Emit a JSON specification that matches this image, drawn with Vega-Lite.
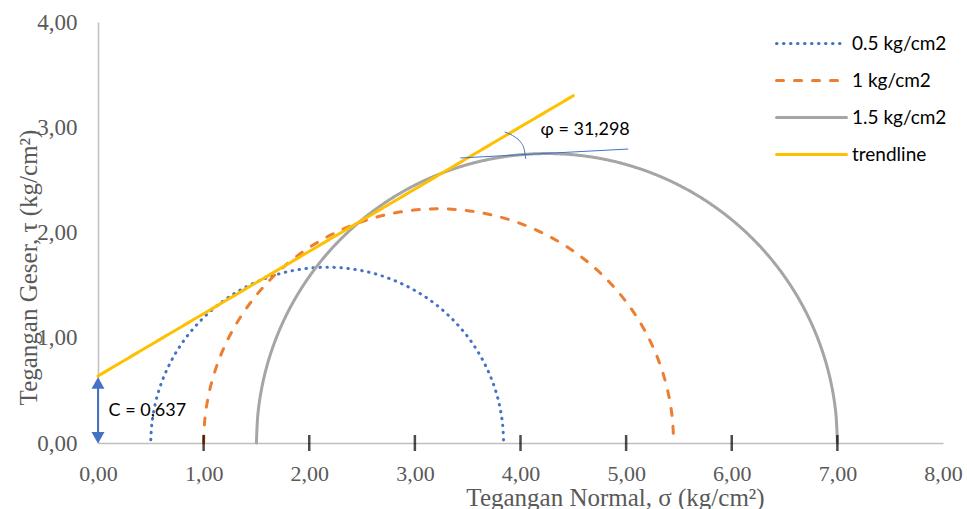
{
  "$schema": "https://vega.github.io/schema/vega-lite/v6.json",
  "width": 845,
  "height": 421,
  "autosize": {"type": "none"},
  "padding": {"left": 98, "top": 22, "right": 24, "bottom": 66},
  "background": "white",
  "config": {
    "view": {"stroke": null},
    "locale": {"number": {"decimal": ",", "thousands": ".", "grouping": [3], "currency": ["", ""]}}
  },
  "datasets": {
    "curves": [
      {"series": "0.5 kg/cm2", "x": 3.84, "y": 0},
      {"series": "0.5 kg/cm2", "x": 3.8308, "y": 0.1746},
      {"series": "0.5 kg/cm2", "x": 3.8035, "y": 0.3472},
      {"series": "0.5 kg/cm2", "x": 3.7583, "y": 0.5161},
      {"series": "0.5 kg/cm2", "x": 3.6956, "y": 0.6793},
      {"series": "0.5 kg/cm2", "x": 3.6163, "y": 0.835},
      {"series": "0.5 kg/cm2", "x": 3.5211, "y": 0.9816},
      {"series": "0.5 kg/cm2", "x": 3.411, "y": 1.1174},
      {"series": "0.5 kg/cm2", "x": 3.2874, "y": 1.241},
      {"series": "0.5 kg/cm2", "x": 3.1516, "y": 1.3511},
      {"series": "0.5 kg/cm2", "x": 3.005, "y": 1.4463},
      {"series": "0.5 kg/cm2", "x": 2.8493, "y": 1.5256},
      {"series": "0.5 kg/cm2", "x": 2.6861, "y": 1.5883},
      {"series": "0.5 kg/cm2", "x": 2.5172, "y": 1.6335},
      {"series": "0.5 kg/cm2", "x": 2.3446, "y": 1.6608},
      {"series": "0.5 kg/cm2", "x": 2.17, "y": 1.67},
      {"series": "0.5 kg/cm2", "x": 1.9954, "y": 1.6608},
      {"series": "0.5 kg/cm2", "x": 1.8228, "y": 1.6335},
      {"series": "0.5 kg/cm2", "x": 1.6539, "y": 1.5883},
      {"series": "0.5 kg/cm2", "x": 1.4907, "y": 1.5256},
      {"series": "0.5 kg/cm2", "x": 1.335, "y": 1.4463},
      {"series": "0.5 kg/cm2", "x": 1.1884, "y": 1.3511},
      {"series": "0.5 kg/cm2", "x": 1.0526, "y": 1.241},
      {"series": "0.5 kg/cm2", "x": 0.929, "y": 1.1174},
      {"series": "0.5 kg/cm2", "x": 0.8189, "y": 0.9816},
      {"series": "0.5 kg/cm2", "x": 0.7237, "y": 0.835},
      {"series": "0.5 kg/cm2", "x": 0.6444, "y": 0.6793},
      {"series": "0.5 kg/cm2", "x": 0.5817, "y": 0.5161},
      {"series": "0.5 kg/cm2", "x": 0.5365, "y": 0.3472},
      {"series": "0.5 kg/cm2", "x": 0.5092, "y": 0.1746},
      {"series": "0.5 kg/cm2", "x": 0.5, "y": 0.03},
      {"series": "1 kg/cm2", "x": 5.45, "y": 0},
      {"series": "1 kg/cm2", "x": 5.4378, "y": 0.2326},
      {"series": "1 kg/cm2", "x": 5.4014, "y": 0.4626},
      {"series": "1 kg/cm2", "x": 5.3411, "y": 0.6876},
      {"series": "1 kg/cm2", "x": 5.2576, "y": 0.905},
      {"series": "1 kg/cm2", "x": 5.1519, "y": 1.1125},
      {"series": "1 kg/cm2", "x": 5.0251, "y": 1.3078},
      {"series": "1 kg/cm2", "x": 4.8785, "y": 1.4888},
      {"series": "1 kg/cm2", "x": 4.7138, "y": 1.6535},
      {"series": "1 kg/cm2", "x": 4.5328, "y": 1.8001},
      {"series": "1 kg/cm2", "x": 4.3375, "y": 1.9269},
      {"series": "1 kg/cm2", "x": 4.13, "y": 2.0326},
      {"series": "1 kg/cm2", "x": 3.9126, "y": 2.1161},
      {"series": "1 kg/cm2", "x": 3.6876, "y": 2.1764},
      {"series": "1 kg/cm2", "x": 3.4576, "y": 2.2128},
      {"series": "1 kg/cm2", "x": 3.225, "y": 2.225},
      {"series": "1 kg/cm2", "x": 2.9924, "y": 2.2128},
      {"series": "1 kg/cm2", "x": 2.7624, "y": 2.1764},
      {"series": "1 kg/cm2", "x": 2.5374, "y": 2.1161},
      {"series": "1 kg/cm2", "x": 2.32, "y": 2.0326},
      {"series": "1 kg/cm2", "x": 2.1125, "y": 1.9269},
      {"series": "1 kg/cm2", "x": 1.9172, "y": 1.8001},
      {"series": "1 kg/cm2", "x": 1.7362, "y": 1.6535},
      {"series": "1 kg/cm2", "x": 1.5715, "y": 1.4888},
      {"series": "1 kg/cm2", "x": 1.4249, "y": 1.3078},
      {"series": "1 kg/cm2", "x": 1.2981, "y": 1.1125},
      {"series": "1 kg/cm2", "x": 1.1924, "y": 0.905},
      {"series": "1 kg/cm2", "x": 1.1089, "y": 0.6876},
      {"series": "1 kg/cm2", "x": 1.0486, "y": 0.4626},
      {"series": "1 kg/cm2", "x": 1.0122, "y": 0.2326},
      {"series": "1 kg/cm2", "x": 1.0, "y": 0},
      {"series": "1.5 kg/cm2", "x": 7.0, "y": 0},
      {"series": "1.5 kg/cm2", "x": 6.9849, "y": 0.2875},
      {"series": "1.5 kg/cm2", "x": 6.9399, "y": 0.5718},
      {"series": "1.5 kg/cm2", "x": 6.8654, "y": 0.8498},
      {"series": "1.5 kg/cm2", "x": 6.7623, "y": 1.1185},
      {"series": "1.5 kg/cm2", "x": 6.6316, "y": 1.375},
      {"series": "1.5 kg/cm2", "x": 6.4748, "y": 1.6164},
      {"series": "1.5 kg/cm2", "x": 6.2936, "y": 1.8401},
      {"series": "1.5 kg/cm2", "x": 6.0901, "y": 2.0436},
      {"series": "1.5 kg/cm2", "x": 5.8664, "y": 2.2248},
      {"series": "1.5 kg/cm2", "x": 5.625, "y": 2.3816},
      {"series": "1.5 kg/cm2", "x": 5.3685, "y": 2.5123},
      {"series": "1.5 kg/cm2", "x": 5.0998, "y": 2.6154},
      {"series": "1.5 kg/cm2", "x": 4.8218, "y": 2.6899},
      {"series": "1.5 kg/cm2", "x": 4.5375, "y": 2.7349},
      {"series": "1.5 kg/cm2", "x": 4.25, "y": 2.75},
      {"series": "1.5 kg/cm2", "x": 3.9625, "y": 2.7349},
      {"series": "1.5 kg/cm2", "x": 3.6782, "y": 2.6899},
      {"series": "1.5 kg/cm2", "x": 3.4002, "y": 2.6154},
      {"series": "1.5 kg/cm2", "x": 3.1315, "y": 2.5123},
      {"series": "1.5 kg/cm2", "x": 2.875, "y": 2.3816},
      {"series": "1.5 kg/cm2", "x": 2.6336, "y": 2.2248},
      {"series": "1.5 kg/cm2", "x": 2.4099, "y": 2.0436},
      {"series": "1.5 kg/cm2", "x": 2.2064, "y": 1.8401},
      {"series": "1.5 kg/cm2", "x": 2.0252, "y": 1.6164},
      {"series": "1.5 kg/cm2", "x": 1.8684, "y": 1.375},
      {"series": "1.5 kg/cm2", "x": 1.7377, "y": 1.1185},
      {"series": "1.5 kg/cm2", "x": 1.6346, "y": 0.8498},
      {"series": "1.5 kg/cm2", "x": 1.5601, "y": 0.5718},
      {"series": "1.5 kg/cm2", "x": 1.5151, "y": 0.2875},
      {"series": "1.5 kg/cm2", "x": 1.5, "y": 0},
      {"series": "trendline", "x": 0, "y": 0.637},
      {"series": "trendline", "x": 4.5, "y": 3.3}
    ],
    "ticks": [{"x": 1, "y": 0}, {"x": 2, "y": 0}, {"x": 3, "y": 0}, {"x": 4, "y": 0}, {"x": 5, "y": 0}, {"x": 6, "y": 0}, {"x": 7, "y": 0}],
    "tangent": [{"x": 3.43, "y": 2.708}, {"x": 4.25, "y": 2.752}, {"x": 5.02, "y": 2.793}],
    "arc": [{"x": 3.85, "y": 2.955}, {"x": 3.95, "y": 2.905}, {"x": 4.0, "y": 2.86}, {"x": 4.035, "y": 2.79}, {"x": 4.05, "y": 2.70}],
    "arrowLine": [{"x": 0, "y": 0.04, "y2": 0.6}],
    "arrowUp": [{"x": 0, "y": 0.57}],
    "arrowDown": [{"x": 0, "y": 0.05}],
    "labels": [
      {"x": 0.1, "y": 0.3, "text": "C = 0,637"},
      {"x": 4.19, "y": 2.975, "text": "φ = 31,298"}
    ]
  },
  "layer": [
    {
      "data": {"name": "curves"},
      "mark": {"type": "line", "strokeWidth": 3, "strokeCap": "round", "interpolate": "cardinal"},
      "encoding": {
        "x": {
          "field": "x", "type": "quantitative",
          "scale": {"domain": [0, 8], "nice": false},
          "axis": {
            "values": [0, 1, 2, 3, 4, 5, 6, 7, 8], "format": ".2f", "grid": false, "ticks": false, "labelFlush": false,
            "domainColor": "#BFBFBF", "domainWidth": 1.5,
            "labelFont": "Liberation Serif", "labelFontSize": 22, "labelColor": "#595959", "labelPadding": 37, "labelBaseline": "alphabetic",
            "title": "Tegangan Normal, σ (kg/cm²)", "titleFont": "Liberation Serif", "titleFontSize": 25,
            "titleFontWeight": "normal", "titleColor": "#595959", "titleX": 517, "titleY": 62, "titleBaseline": "alphabetic"
          }
        },
        "y": {
          "field": "y", "type": "quantitative",
          "scale": {"domain": [0, 4], "nice": false},
          "axis": {
            "values": [0, 1, 2, 3, 4], "format": ".2f", "grid": false, "ticks": false, "labelFlush": false,
            "domainColor": "#BFBFBF", "domainWidth": 1.5,
            "labelFont": "Liberation Serif", "labelFontSize": 23, "labelColor": "#595959", "labelPadding": 21,
            "title": "Tegangan Geser, τ (kg/cm²)", "titleFont": "Liberation Serif", "titleFontSize": 25,
            "titleFontWeight": "normal", "titleColor": "#595959", "titleX": -70, "titleY": 245, "titleBaseline": "middle"
          }
        },
        "color": {
          "field": "series", "type": "nominal",
          "scale": {"domain": ["0.5 kg/cm2", "1 kg/cm2", "1.5 kg/cm2", "trendline"], "range": ["#4472C4", "#ED7D31", "#A5A5A5", "#FFC000"]},
          "legend": {
            "orient": "none", "legendX": 677, "legendY": 3, "title": null,
            "symbolType": "stroke", "symbolSize": 4900, "symbolStrokeWidth": 3, "clipHeight": 37,
            "labelFont": "Lato", "labelFontSize": 19, "labelColor": "#000000", "rowPadding": 0,
            "encode": {"symbols": {"update": {"strokeCap": {"value": "round"}}}}
          }
        },
        "strokeDash": {
          "field": "series", "type": "nominal",
          "scale": {"domain": ["0.5 kg/cm2", "1 kg/cm2", "1.5 kg/cm2", "trendline"], "range": [[0.5, 6.5], [7, 11], [1, 0], [1, 0]]},
          "legend": {
            "orient": "none", "legendX": 677, "legendY": 3, "title": null,
            "symbolType": "stroke", "symbolSize": 4900, "symbolStrokeWidth": 3, "clipHeight": 37,
            "labelFont": "Lato", "labelFontSize": 19, "labelColor": "#000000", "rowPadding": 0,
            "encode": {"symbols": {"update": {"strokeCap": {"value": "round"}}}}
          }
        }
      }
    },
    {
      "data": {"name": "ticks"},
      "mark": {"type": "tick", "orient": "vertical", "color": "#000000", "size": 16, "thickness": 2.5},
      "encoding": {"x": {"field": "x", "type": "quantitative"}, "y": {"field": "y", "type": "quantitative"}}
    },
    {
      "data": {"name": "tangent"},
      "mark": {"type": "line", "color": "#4472C4", "strokeWidth": 1, "interpolate": "monotone"},
      "encoding": {"x": {"field": "x", "type": "quantitative"}, "y": {"field": "y", "type": "quantitative"}}
    },
    {
      "data": {"name": "arc"},
      "mark": {"type": "line", "color": "#4472C4", "strokeWidth": 1, "interpolate": "monotone"},
      "encoding": {"x": {"field": "x", "type": "quantitative"}, "y": {"field": "y", "type": "quantitative"}}
    },
    {
      "data": {"name": "arrowLine"},
      "mark": {"type": "rule", "color": "#4472C4", "strokeWidth": 2},
      "encoding": {"x": {"field": "x", "type": "quantitative"}, "y": {"field": "y", "type": "quantitative"}, "y2": {"field": "y2"}}
    },
    {
      "data": {"name": "arrowUp"},
      "mark": {"type": "point", "shape": "triangle-up", "filled": true, "color": "#4472C4", "size": 170, "opacity": 1},
      "encoding": {"x": {"field": "x", "type": "quantitative"}, "y": {"field": "y", "type": "quantitative"}}
    },
    {
      "data": {"name": "arrowDown"},
      "mark": {"type": "point", "shape": "triangle-down", "filled": true, "color": "#4472C4", "size": 170, "opacity": 1},
      "encoding": {"x": {"field": "x", "type": "quantitative"}, "y": {"field": "y", "type": "quantitative"}}
    },
    {
      "data": {"name": "labels"},
      "mark": {"type": "text", "align": "left", "baseline": "middle", "font": "Lato", "fontSize": 18, "color": "#000000"},
      "encoding": {"x": {"field": "x", "type": "quantitative"}, "y": {"field": "y", "type": "quantitative"}, "text": {"field": "text"}}
    }
  ]
}
